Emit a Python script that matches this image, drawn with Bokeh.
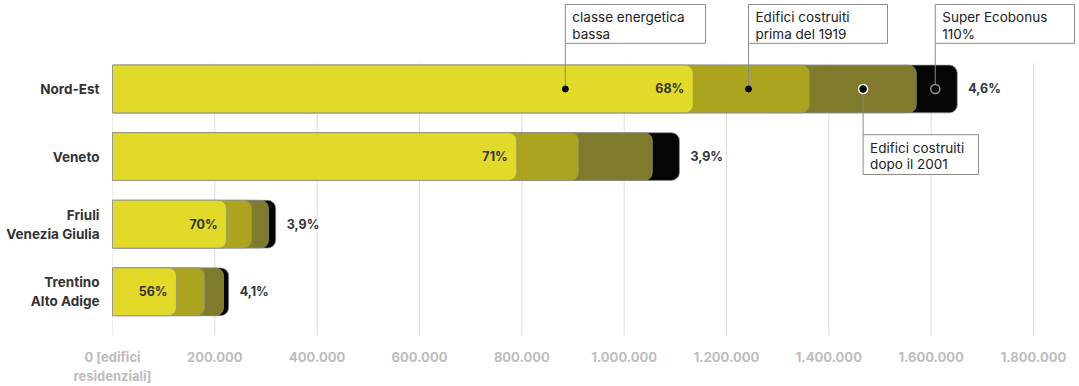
from bokeh.plotting import figure
from bokeh.models import ColumnDataSource, Range1d, FixedTicker
from bokeh.core.properties import value
from bokeh.embed import file_html
from bokeh.resources import INLINE

# ---- data ----
categories = ["Nord-Est", "Veneto", "Friuli\nVenezia Giulia", "Trentino\nAlto Adige"]
classe_bassa = [1135000, 790000, 223000, 125000]
pre_1919 = [227000, 121000, 49000, 55000]
post_2001 = [209000, 144000, 33000, 37000]
superbonus = [80000, 53000, 14000, 10000]
pct_bassa = ["68%", "71%", "70%", "56%"]
pct_superbonus = ["4,6%", "3,9%", "3,9%", "4,1%"]
tick_values = [0, 200000, 400000, 600000, 800000, 1000000, 1200000, 1400000, 1600000, 1800000]
tick_labels = ["0 [edifici\nresidenziali]", "200.000", "400.000", "600.000", "800.000",
               "1.000.000", "1.200.000", "1.400.000", "1.600.000", "1.800.000"]

# callouts: label text, x position on the Nord-Est bar
callout_texts = ["classe energetica\nbassa", "Edifici costruiti\nprima del 1919",
                 "Super Ecobonus\n110%", "Edifici costruiti\ndopo il 2001"]
callout_x = [885000, 1243000, 1608000, 1467000]

FONT = "Inter"
colors = ["#E2DA28", "#ACA41F", "#807A2D", "#050505"]

ypos = [len(categories) - 1 - i for i in range(len(categories))]
c1 = classe_bassa
c2 = [a + b for a, b in zip(c1, pre_1919)]
c3 = [a + b for a, b in zip(c2, post_2001)]
c4 = [a + b for a, b in zip(c3, superbonus)]

src = ColumnDataSource(dict(y=ypos, c1=c1, c2=c2, c3=c3, c4=c4,
                            pb=pct_bassa, ps=pct_superbonus))

Y0, Y1 = -0.647, 4.309
p = figure(width=1079, height=386, output_backend="svg", toolbar_location=None,
           x_range=Range1d(0, 1889900), y_range=Range1d(Y0, Y1),
           min_border_left=112, min_border_right=0, min_border_top=0, min_border_bottom=49)
p.outline_line_color = None
p.xgrid.visible = False
p.ygrid.visible = False

# grid lines drawn as segments
p.segment(x0=tick_values, x1=tick_values, y0=[Y0] * len(tick_values),
          y1=[3.38] * len(tick_values), line_color="#dcdcdc", line_width=1)

H = 0.706
for col, color in zip(["c4", "c3", "c2", "c1"], colors[::-1]):
    p.hbar(y="y", left=0, right=col, height=H, source=src, fill_color=color,
           line_color="#8f8f8f", line_width=1, line_alpha=0.7,
           border_radius=(0, 8, 8, 0))

p.text(x="c1", y="y", text="pb", source=src, x_offset=-9, text_align="right",
       text_baseline="middle", text_font=value(FONT), text_font_size="12.5px",
       text_color="#333333", text_font_style="bold")
p.text(x="c4", y="y", text="ps", source=src, x_offset=11, text_align="left",
       text_baseline="middle", text_font=value(FONT), text_font_size="12.5px",
       text_color="#333333", text_font_style="bold")

# callouts
box_left = callout_x
box_right = [1158960, 1514650, 1880130, 1692500]
box_top = [4.25, 4.25, 4.25, 2.324]
box_bot = [3.676, 3.676, 3.676, 1.735]
line_y0 = [3.676, 3.676, 3.676, 2.324]
p.segment(x0=callout_x, x1=callout_x, y0=line_y0, y1=[3] * 4, line_color="#8a8a8a", line_width=1)
p.quad(left=box_left, right=box_right, top=box_top, bottom=box_bot,
       fill_color="white", line_color="#8a8a8a", line_width=1)
p.text(x=box_left, y=box_top, text=callout_texts, x_offset=7, y_offset=5,
       text_align="left", text_baseline="top", text_font=value(FONT),
       text_font_size="13.5px", text_color="#222222", text_line_height=1.05)
# dots
p.scatter(x=callout_x[:2], y=[3, 3], size=6, fill_color="black", line_color="black")
p.scatter(x=[callout_x[3]], y=[3], size=9, fill_color="black", line_color="white", line_width=1.5)
p.scatter(x=[callout_x[2]], y=[3], size=9, fill_color="black", line_color="#9a9a9a", line_width=1.5)

# axes
xa = p.xaxis[0]
xa.ticker = FixedTicker(ticks=tick_values)
xa.major_label_overrides = {v: l for v, l in zip(tick_values, tick_labels)}
xa.axis_line_color = None
xa.major_tick_line_color = None
xa.minor_tick_line_color = None
xa.major_label_standoff = 7
xa.major_label_text_font = FONT
xa.major_label_text_font_size = "13px"
xa.major_label_text_color = "#bdbdbd"
xa.major_label_text_font_style = "bold"

ya = p.yaxis[0]
ya.ticker = FixedTicker(ticks=ypos)
ya.major_label_overrides = {y: c for y, c in zip(ypos, categories)}
ya.axis_line_color = None
ya.major_tick_line_color = None
ya.minor_tick_line_color = None
ya.major_label_standoff = 7
ya.major_label_text_font = FONT
ya.major_label_text_font_size = "13.5px"
ya.major_label_text_color = "#333333"
ya.major_label_text_font_style = "bold"

open("out.html", "w").write(file_html(p, INLINE))
